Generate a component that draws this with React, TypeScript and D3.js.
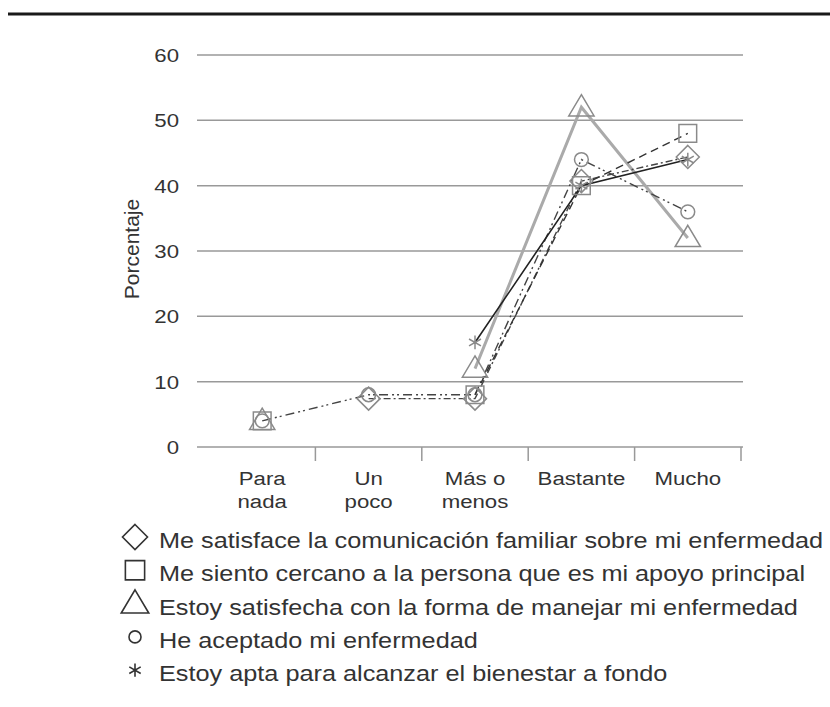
import * as d3 from "d3";

const categories = [["Para", "nada"], ["Un", "poco"], ["Más o", "menos"], ["Bastante"], ["Mucho"]];
const yTicks = [0, 10, 20, 30, 40, 50, 60];

const seriesNames = [
  "Me satisface la comunicación familiar sobre mi enfermedad",
  "Me siento cercano a la persona que es mi apoyo principal",
  "Estoy satisfecha con la forma de manejar mi enfermedad",
  "He aceptado mi enfermedad",
  "Estoy apta para alcanzar el bienestar a fondo",
];
const seriesMarkers = ["diamond", "square", "triangle", "circle", "asterisk"];

// percentages per category (0 = not plotted)
const diamondValues = [0, 7.4, 7.4, 40.7, 44.4];
const squareValues = [4, 0, 8, 40, 48];
const triangleValues = [4, 0, 12, 52, 32];
const circleValues = [4, 8, 8, 44, 36];
const asteriskValues = [0, 0, 16, 40, 44];

const seriesValues = [diamondValues, squareValues, triangleValues, circleValues, asteriskValues];
const seriesStroke = ["#444", "#333", "#aaa", "#444", "#222"];
const seriesWidth = [1.4, 1.4, 3, 1.4, 1.6];
const seriesDash = ["7,3,2,3", "8,5", null, "9,4,2,3,2,4", null];
const drawOrder = [2, 0, 3, 1, 4];

const FONT = "'Liberation Sans', Arial, Helvetica, sans-serif";
const SX = 1.17;

function markerPath(kind: string, s: number) {
  if (kind === "diamond") return `M0,${-s}L${s},0L0,${s}L${-s},0Z`;
  if (kind === "square") return `M${-s * 0.77},${-s * 0.77}h${s * 1.54}v${s * 1.54}h${-s * 1.54}Z`;
  if (kind === "triangle") return `M0,${-s * 1.1}L${s * 1.1},${s * 0.75}L${-s * 1.1},${s * 0.75}Z`;
  if (kind === "circle") return `M${s * 0.6},0A${s * 0.6},${s * 0.6} 0 1 1 ${-s * 0.6},0A${s * 0.6},${s * 0.6} 0 1 1 ${s * 0.6},0`;
  // asterisk: three crossing strokes
  const r = s * 0.6;
  return d3.range(3).map(i => {
    const a = (Math.PI / 3) * i + Math.PI / 2;
    return `M${r * Math.cos(a)},${r * Math.sin(a)}L${-r * Math.cos(a)},${-r * Math.sin(a)}`;
  }).join("");
}

function SText({ x, y, anchor = "start", size, children, fill = "#333" }: any) {
  return (
    <text transform={`translate(${x},${y}) scale(${SX},1)`} textAnchor={anchor}
      fontFamily={FONT} fontSize={size} fill={fill}>{children}</text>
  );
}

export default function App() {
  const x = d3.scaleBand<number>().domain(d3.range(categories.length)).range([209, 741]);
  const y = d3.scaleLinear().domain([0, 60]).range([447, 55]);
  const cx = (i: number) => (x(i) as number) + x.bandwidth() / 2;

  const line = d3.line<number>()
    .defined(v => v > 0)
    .x((_, i) => cx(i))
    .y(v => y(v));

  const legendSize = [12.5, 12.5, 12.5, 10, 11];

  return (
    <svg width={830} height={707} style={{ position: "absolute", left: 0, top: 0, background: "#fff" }}>
      <line x1={8} x2={830} y1={14} y2={14} stroke="#1a1a1a" strokeWidth={3} />

      {yTicks.map(t => (
        <g key={t}>
          <line x1={197} x2={743} y1={y(t)} y2={y(t)} stroke="#999" strokeWidth={1.5} />
          <SText x={179} y={y(t) + 7} anchor="end" size={19}>{t}</SText>
        </g>
      ))}
      {categories.map((_, i) => (
        <line key={i} x1={(x(i) as number) + x.bandwidth()} x2={(x(i) as number) + x.bandwidth()}
          y1={y(0)} y2={y(0) + 14} stroke="#999" strokeWidth={1.5} />
      ))}

      <text transform="translate(139,249) rotate(-90)" textAnchor="middle" fontFamily={FONT}
        fontSize={21} fill="#333">Porcentaje</text>

      {categories.map((lines, i) => lines.map((l, k) => (
        <SText key={`${i}-${k}`} x={cx(i)} y={485 + k * 23} anchor="middle" size={19}>{l}</SText>
      )))}

      {drawOrder.map(s => (
        <path key={s} d={line(seriesValues[s]) || ""} fill="none" stroke={seriesStroke[s]}
          strokeWidth={seriesWidth[s]} strokeDasharray={seriesDash[s] || undefined} />
      ))}

      {drawOrder.map(s => seriesValues[s].map((v, i) => v > 0 ? (
        <path key={`${s}-${i}`} transform={`translate(${cx(i)},${y(v)})`}
          d={markerPath(seriesMarkers[s], 11.5)}
          fill="none" stroke="#8a8a8a" strokeWidth={1.5} />
      ) : null))}

      {seriesNames.map((name, k) => (
        <g key={name}>
          <path transform={`translate(135,${537 + k * 33.3})`} d={markerPath(seriesMarkers[k], legendSize[k])}
            fill="none" stroke="#333" strokeWidth={1.6} />
          <SText x={159} y={548 + k * 33.3} size={21.6}>{name}</SText>
        </g>
      ))}
    </svg>
  );
}
